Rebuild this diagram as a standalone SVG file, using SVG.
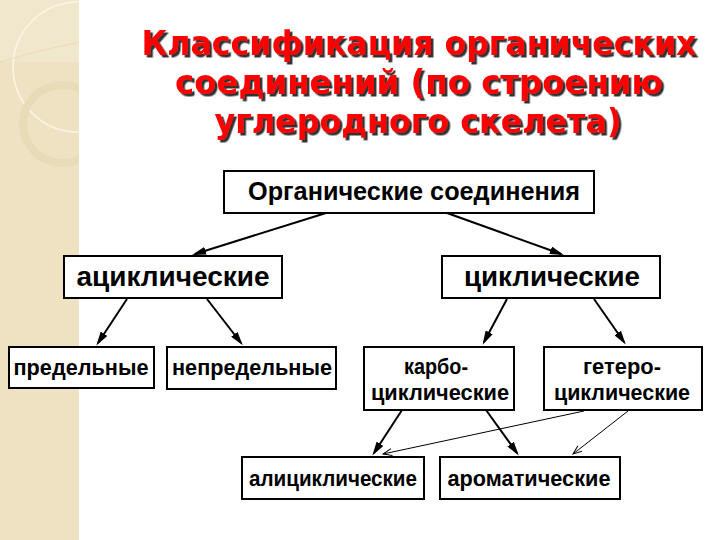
<svg xmlns="http://www.w3.org/2000/svg" width="720" height="540" viewBox="0 0 720 540">
<style>
.box{fill:#fff;stroke:#000;stroke-width:2}
.t{font-family:"Liberation Sans",Arial,sans-serif;font-weight:bold;fill:#000;text-anchor:middle}
.root{font-size:25px}
.big{font-size:27px}
.sm{font-size:22px}
.title{font-family:"DejaVu Sans",Verdana,sans-serif;font-weight:bold;font-size:33px;text-anchor:middle;fill:#FF0000;filter:url(#sh)}
.c{stroke:#000;stroke-width:2;fill:none;marker-end:url(#ah)}
.ct{stroke:#000;stroke-width:1;fill:none;marker-end:url(#oh)}
</style>
<defs>
<filter id="sh" filterUnits="userSpaceOnUse" x="80" y="0" width="640" height="160">
<feDropShadow dx="2.5" dy="2.5" stdDeviation="0.6" flood-color="#333333" flood-opacity="1"/>
</filter>
<marker id="ah" markerUnits="userSpaceOnUse" markerWidth="14" markerHeight="8" refX="11" refY="4" orient="auto">
<path d="M0,0 L14,4 L0,8 z" fill="#000"/>
</marker>
<marker id="oh" markerUnits="userSpaceOnUse" markerWidth="11" markerHeight="9" refX="9" refY="4" orient="auto">
<path d="M0,0.5 L9,4 L0,7.5" fill="none" stroke="#000" stroke-width="1"/>
</marker>
<clipPath id="strip"><rect x="0" y="0" width="79" height="540"/></clipPath>
</defs>
<rect x="0" y="0" width="720" height="540" fill="#fff"/>
<g id="strip-bg" clip-path="url(#strip)">
<rect x="0" y="0" width="79" height="540" fill="#EEE2C2"/>
<rect x="0" y="0" width="79" height="62" fill="#F1E7CC"/>
<circle cx="78" cy="67" r="65" fill="none" stroke="#FBF6E8" stroke-width="1.5"/>
<circle cx="62" cy="124" r="39" fill="none" stroke="#E8DBB8" stroke-width="8"/>
<path d="M0,62 Q40,50 79,42" fill="none" stroke="#E8DBB8" stroke-width="1"/>
</g>
<g id="title">
<text class="title" x="419" y="55" textLength="555" lengthAdjust="spacingAndGlyphs">Классификация органических</text>
<text class="title" x="419" y="94" textLength="488" lengthAdjust="spacingAndGlyphs">соединений (по строению</text>
<text class="title" x="418" y="133" textLength="407" lengthAdjust="spacingAndGlyphs">углеродного скелета)</text>
</g>
<g id="connectors">
<line class="c" x1="326" y1="213" x2="195" y2="254"/>
<line class="c" x1="447" y1="213" x2="561" y2="254"/>
<line class="c" x1="127" y1="299" x2="98" y2="343"/>
<line class="c" x1="207" y1="299" x2="241" y2="343"/>
<line class="c" x1="507" y1="299" x2="484" y2="342"/>
<line class="c" x1="594" y1="299" x2="624" y2="342"/>
<line class="c" x1="402" y1="410" x2="374" y2="453"/>
<line class="c" x1="486" y1="410" x2="517" y2="453"/>
<line class="ct" x1="584" y1="411" x2="383" y2="454"/>
<line class="ct" x1="628" y1="411" x2="573" y2="454"/>
</g>
<g id="n-root">
<rect class="box" x="224" y="171" width="370" height="42"/>
<text class="t root" x="414" y="200" textLength="332" lengthAdjust="spacingAndGlyphs">Органические соединения</text>
</g>
<g id="n-acyclic">
<rect class="box" x="64" y="256" width="218" height="42"/>
<text class="t big" x="173" y="286" textLength="193" lengthAdjust="spacingAndGlyphs">ациклические</text>
</g>
<g id="n-cyclic">
<rect class="box" x="442" y="256" width="218" height="42"/>
<text class="t big" x="552" y="286" textLength="176" lengthAdjust="spacingAndGlyphs">циклические</text>
</g>
<g id="n-saturated">
<rect class="box" x="9" y="347" width="145" height="41"/>
<text class="t sm" x="81" y="375" textLength="135" lengthAdjust="spacingAndGlyphs">предельные</text>
</g>
<g id="n-unsaturated">
<rect class="box" x="167" y="347" width="169" height="42"/>
<text class="t sm" x="252" y="375" textLength="160" lengthAdjust="spacingAndGlyphs">непредельные</text>
</g>
<g id="n-carbo">
<rect class="box" x="364" y="347" width="150" height="63"/>
<text class="t sm" x="436" y="374" textLength="64" lengthAdjust="spacingAndGlyphs">карбо-</text>
<text class="t sm" x="440" y="400" textLength="138" lengthAdjust="spacingAndGlyphs">циклические</text>
</g>
<g id="n-hetero">
<rect class="box" x="544" y="347" width="158" height="63"/>
<text class="t sm" x="622" y="374" textLength="78" lengthAdjust="spacingAndGlyphs">гетеро-</text>
<text class="t sm" x="622" y="400" textLength="136" lengthAdjust="spacingAndGlyphs">циклические</text>
</g>
<g id="n-alicyclic">
<rect class="box" x="242" y="457" width="182" height="42"/>
<text class="t sm" x="333" y="486" textLength="168" lengthAdjust="spacingAndGlyphs">алициклические</text>
</g>
<g id="n-aromatic">
<rect class="box" x="440" y="457" width="180" height="42"/>
<text class="t sm" x="529" y="486" textLength="163" lengthAdjust="spacingAndGlyphs">ароматические</text>
</g>
</svg>
